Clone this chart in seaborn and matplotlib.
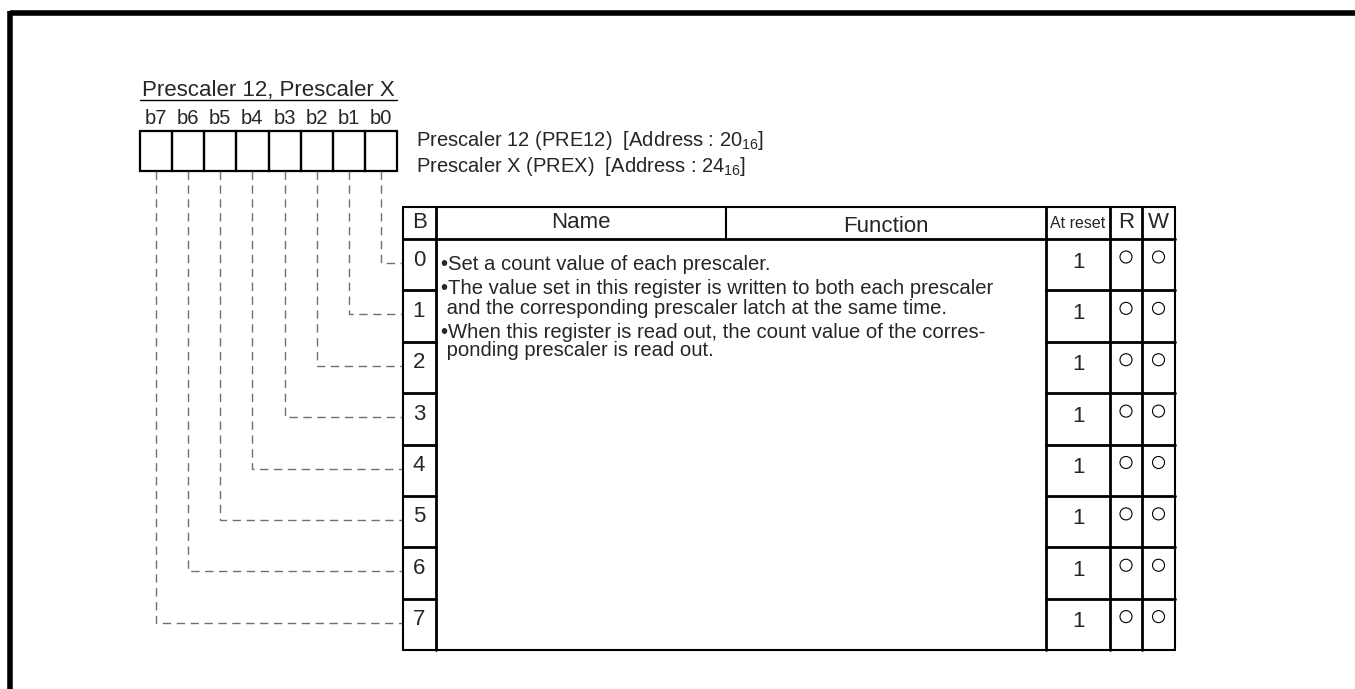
import seaborn as sns
import matplotlib.pyplot as plt
import pandas as pd

# register data
title = 'Prescaler 12, Prescaler X'
bits = ['b7', 'b6', 'b5', 'b4', 'b3', 'b2', 'b1', 'b0']
addresses = ['Prescaler 12 (PRE12)  [Address : $\\mathregular{20_{16}}$]',
             'Prescaler X (PREX)  [Address : $\\mathregular{24_{16}}$]']
headers = ['B', 'Name', 'Function', 'At reset', 'R', 'W']
bit_rows = [0, 1, 2, 3, 4, 5, 6, 7]
reset_values = [1, 1, 1, 1, 1, 1, 1, 1]
readable = [1, 1, 1, 1, 1, 1, 1, 1]
writable = [1, 1, 1, 1, 1, 1, 1, 1]
function_lines = [
    '•Set a count value of each prescaler.',
    '•The value set in this register is written to both each prescaler',
    ' and the corresponding prescaler latch at the same time.',
    '•When this register is read out, the count value of the corres-',
    ' ponding prescaler is read out.',
]

sns.set_style('white')
plt.rcParams['font.family'] = ['Liberation Sans', 'DejaVu Sans']
plt.rcParams['mathtext.fontset'] = 'custom'
plt.rcParams['mathtext.rm'] = 'Liberation Sans'

W, H = 1355, 689
fig = plt.figure(figsize=(13.55, 6.89), dpi=100)
ax = fig.add_axes([0, 0, 1, 1])
ax.set_xlim(0, W)
ax.set_ylim(H, 0)
ax.axis('off')

# outer frame (top and left only visible)
ax.plot([10, W], [13, 13], color='black', lw=4, solid_capstyle='butt')
ax.plot([10, 10], [11, H], color='black', lw=4, solid_capstyle='butt')

# title with underline
ax.text(142, 96, title, fontsize=16, ha='left', va='baseline')
ax.plot([140, 397], [100, 100], color='black', lw=1)

# register bit boxes
bx0, bw, by0, by1 = 140, 257 / 8, 131, 171
for i, b in enumerate(bits):
    x = bx0 + i * bw
    ax.text(x + bw / 2, 118, b, fontsize=14.5, ha='center', va='center')
    ax.add_patch(plt.Rectangle((x, by0), bw, by1 - by0, fill=False, lw=1.6, color='black'))

for j, a in enumerate(addresses):
    ax.text(416, 141 + j * 25, a, fontsize=14.5, ha='left', va='center')

# table geometry
cx = [403, 436, 726, 1046, 1110, 1142, 1175]
ty0, ty1 = 207, 239
rh = (650 - ty1) / 8
row_top = [ty1 + r * rh for r in bit_rows]

# connectors from bit boxes to table rows
conn = []
for i, b in enumerate(bits):
    bit = 7 - i
    x = bx0 + i * bw + bw / 2
    y = row_top[bit] + 24
    conn.append(pd.DataFrame({'x': [x, x, cx[0]], 'y': [by1, y, y], 'seg': bit}))
conn = pd.concat(conn)
for bit, d in conn.groupby('seg'):
    ax.plot(d['x'], d['y'], color='#707070', lw=1, linestyle=(0, (6, 4)))

# header
ax.plot([cx[0], cx[-1]], [ty0, ty0], color='black', lw=1.5)
ax.plot([cx[0], cx[-1]], [ty1, ty1], color='black', lw=2)
hx = [(cx[0] + cx[1]) / 2, (cx[1] + cx[2]) / 2, (cx[2] + cx[3]) / 2,
      (cx[3] + cx[4]) / 2, (cx[4] + cx[5]) / 2, (cx[5] + cx[6]) / 2]
hs = [16, 16, 16, 11.5, 16, 16]
hy = [222, 222, 226, 224, 222, 222]
for h, x, s, y in zip(headers, hx, hs, hy):
    ax.text(x, y, h, fontsize=s, ha='center', va='center')
ax.plot([cx[2], cx[2]], [ty0, ty1], color='black', lw=1.5)

# vertical lines of the table
for k, x in enumerate(cx):
    if k == 2:
        continue
    lw = 1.5 if k in (0, 6) else 2
    ax.plot([x, x], [ty0, 650], color='black', lw=lw)
ax.plot([cx[0], cx[-1]], [650, 650], color='black', lw=1.5)

# row separators (B column and right-hand columns only)
for r in bit_rows[1:]:
    y = row_top[r]
    ax.plot([cx[0], cx[1]], [y, y], color='black', lw=2)
    ax.plot([cx[3], cx[6]], [y, y], color='black', lw=2)

# row contents
for r, v in zip(bit_rows, reset_values):
    ax.text(419, row_top[r] + 21, str(r), fontsize=16, ha='center', va='center')
    ax.text(1078, row_top[r] + 23, str(v), fontsize=16, ha='center', va='center')

rw = pd.DataFrame({
    'x': [(cx[4] + cx[5]) / 2] * 8 + [(cx[5] + cx[6]) / 2] * 8,
    'y': [row_top[r] + 18 for r in bit_rows] * 2,
    'flag': readable + writable,
})
rw = rw[rw['flag'] == 1]
sns.scatterplot(data=rw, x='x', y='y', ax=ax, marker='o', s=75,
                facecolor='none', edgecolor='black', linewidth=0.8, legend=False)

fy = [265, 289, 309, 332, 351]
for t, y in zip(function_lines, fy):
    ax.text(441, y, t, fontsize=14.6, ha='left', va='center')

ax.set_xlim(0, W)
ax.set_ylim(H, 0)
fig.savefig('out.png', dpi=100)
